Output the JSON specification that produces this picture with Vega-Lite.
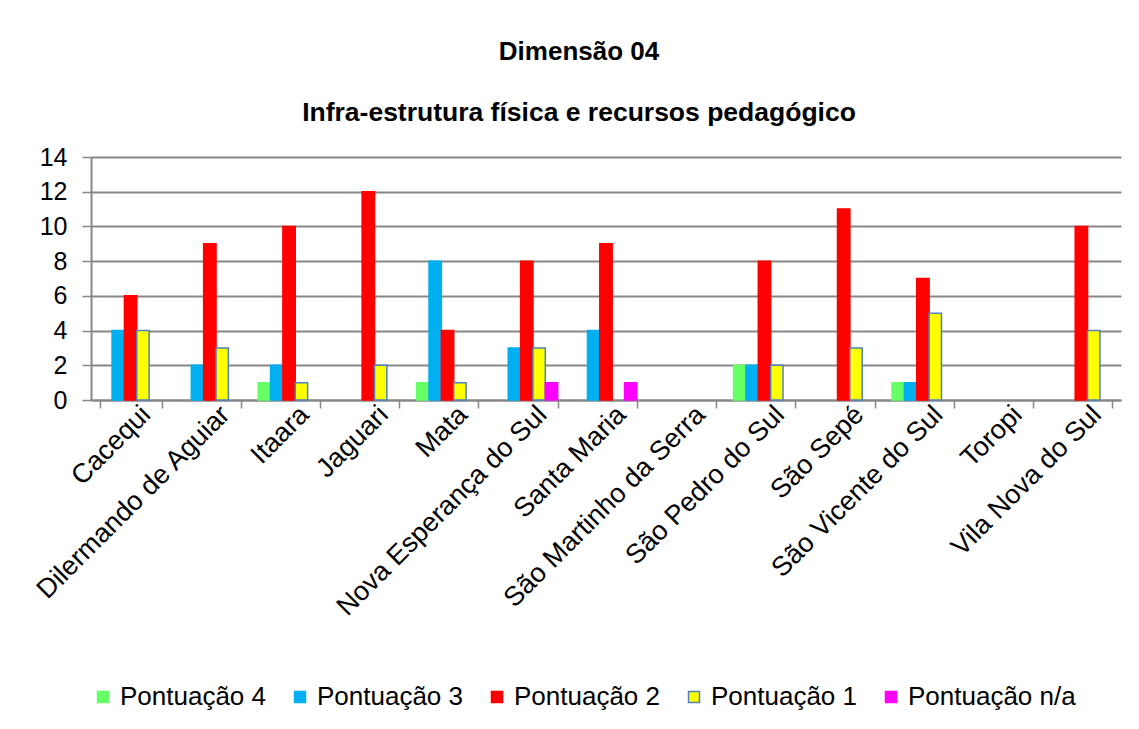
{
  "$schema": "https://vega.github.io/schema/vega-lite/v6.json",
  "width": 1030,
  "height": 243,
  "padding": {"left": 30, "top": 38, "right": 17, "bottom": 15},
  "background": "white",
  "config": {"view": {"stroke": null}},
  "title": {
    "text": "Dimensão 04",
    "subtitle": "Infra-estrutura física e recursos pedagógico",
    "font": "Liberation Sans",
    "fontSize": 26,
    "fontWeight": "bold",
    "color": "black",
    "subtitleFont": "Liberation Sans",
    "subtitleFontSize": 26.5,
    "subtitleFontWeight": "bold",
    "subtitleColor": "black",
    "subtitlePadding": 35,
    "offset": 19,
    "dx": -27,
    "anchor": "middle"
  },
  "data": {
    "values": [
      {"municipio": "Cacequi", "serie": "Pontuação 4", "valor": 0},
      {"municipio": "Cacequi", "serie": "Pontuação 3", "valor": 4},
      {"municipio": "Cacequi", "serie": "Pontuação 2", "valor": 6},
      {"municipio": "Cacequi", "serie": "Pontuação 1", "valor": 4},
      {"municipio": "Cacequi", "serie": "Pontuação n/a", "valor": 0},
      {"municipio": "Dilermando de Aguiar", "serie": "Pontuação 4", "valor": 0},
      {"municipio": "Dilermando de Aguiar", "serie": "Pontuação 3", "valor": 2},
      {"municipio": "Dilermando de Aguiar", "serie": "Pontuação 2", "valor": 9},
      {"municipio": "Dilermando de Aguiar", "serie": "Pontuação 1", "valor": 3},
      {"municipio": "Dilermando de Aguiar", "serie": "Pontuação n/a", "valor": 0},
      {"municipio": "Itaara", "serie": "Pontuação 4", "valor": 1},
      {"municipio": "Itaara", "serie": "Pontuação 3", "valor": 2},
      {"municipio": "Itaara", "serie": "Pontuação 2", "valor": 10},
      {"municipio": "Itaara", "serie": "Pontuação 1", "valor": 1},
      {"municipio": "Itaara", "serie": "Pontuação n/a", "valor": 0},
      {"municipio": "Jaguari", "serie": "Pontuação 4", "valor": 0},
      {"municipio": "Jaguari", "serie": "Pontuação 3", "valor": 0},
      {"municipio": "Jaguari", "serie": "Pontuação 2", "valor": 12},
      {"municipio": "Jaguari", "serie": "Pontuação 1", "valor": 2},
      {"municipio": "Jaguari", "serie": "Pontuação n/a", "valor": 0},
      {"municipio": "Mata", "serie": "Pontuação 4", "valor": 1},
      {"municipio": "Mata", "serie": "Pontuação 3", "valor": 8},
      {"municipio": "Mata", "serie": "Pontuação 2", "valor": 4},
      {"municipio": "Mata", "serie": "Pontuação 1", "valor": 1},
      {"municipio": "Mata", "serie": "Pontuação n/a", "valor": 0},
      {"municipio": "Nova Esperança do Sul", "serie": "Pontuação 4", "valor": 0},
      {"municipio": "Nova Esperança do Sul", "serie": "Pontuação 3", "valor": 3},
      {"municipio": "Nova Esperança do Sul", "serie": "Pontuação 2", "valor": 8},
      {"municipio": "Nova Esperança do Sul", "serie": "Pontuação 1", "valor": 3},
      {"municipio": "Nova Esperança do Sul", "serie": "Pontuação n/a", "valor": 1},
      {"municipio": "Santa Maria", "serie": "Pontuação 4", "valor": 0},
      {"municipio": "Santa Maria", "serie": "Pontuação 3", "valor": 4},
      {"municipio": "Santa Maria", "serie": "Pontuação 2", "valor": 9},
      {"municipio": "Santa Maria", "serie": "Pontuação 1", "valor": 0},
      {"municipio": "Santa Maria", "serie": "Pontuação n/a", "valor": 1},
      {"municipio": "São Martinho da Serra", "serie": "Pontuação 4", "valor": 0},
      {"municipio": "São Martinho da Serra", "serie": "Pontuação 3", "valor": 0},
      {"municipio": "São Martinho da Serra", "serie": "Pontuação 2", "valor": 0},
      {"municipio": "São Martinho da Serra", "serie": "Pontuação 1", "valor": 0},
      {"municipio": "São Martinho da Serra", "serie": "Pontuação n/a", "valor": 0},
      {"municipio": "São Pedro do Sul", "serie": "Pontuação 4", "valor": 2},
      {"municipio": "São Pedro do Sul", "serie": "Pontuação 3", "valor": 2},
      {"municipio": "São Pedro do Sul", "serie": "Pontuação 2", "valor": 8},
      {"municipio": "São Pedro do Sul", "serie": "Pontuação 1", "valor": 2},
      {"municipio": "São Pedro do Sul", "serie": "Pontuação n/a", "valor": 0},
      {"municipio": "São Sepé", "serie": "Pontuação 4", "valor": 0},
      {"municipio": "São Sepé", "serie": "Pontuação 3", "valor": 0},
      {"municipio": "São Sepé", "serie": "Pontuação 2", "valor": 11},
      {"municipio": "São Sepé", "serie": "Pontuação 1", "valor": 3},
      {"municipio": "São Sepé", "serie": "Pontuação n/a", "valor": 0},
      {"municipio": "São Vicente do Sul", "serie": "Pontuação 4", "valor": 1},
      {"municipio": "São Vicente do Sul", "serie": "Pontuação 3", "valor": 1},
      {"municipio": "São Vicente do Sul", "serie": "Pontuação 2", "valor": 7},
      {"municipio": "São Vicente do Sul", "serie": "Pontuação 1", "valor": 5},
      {"municipio": "São Vicente do Sul", "serie": "Pontuação n/a", "valor": 0},
      {"municipio": "Toropi", "serie": "Pontuação 4", "valor": 0},
      {"municipio": "Toropi", "serie": "Pontuação 3", "valor": 0},
      {"municipio": "Toropi", "serie": "Pontuação 2", "valor": 0},
      {"municipio": "Toropi", "serie": "Pontuação 1", "valor": 0},
      {"municipio": "Toropi", "serie": "Pontuação n/a", "valor": 0},
      {"municipio": "Vila Nova do Sul", "serie": "Pontuação 4", "valor": 0},
      {"municipio": "Vila Nova do Sul", "serie": "Pontuação 3", "valor": 0},
      {"municipio": "Vila Nova do Sul", "serie": "Pontuação 2", "valor": 10},
      {"municipio": "Vila Nova do Sul", "serie": "Pontuação 1", "valor": 4},
      {"municipio": "Vila Nova do Sul", "serie": "Pontuação n/a", "valor": 0}
    ]
  },
  "mark": {"type": "bar", "strokeWidth": 1.5},
  "encoding": {
    "x": {
      "field": "municipio",
      "type": "nominal",
      "sort": null,
      "scale": {"paddingInner": 0.22, "paddingOuter": 0.11},
      "axis": {
        "title": null,
        "labelAngle": -45,
        "labelFont": "Liberation Sans",
        "labelFontSize": 27,
        "labelColor": "black",
        "labelLimit": 400,
        "labelPadding": -7,
        "labelOffset": 6,
        "tickBand": "extent",
        "tickSize": 8,
        "tickColor": "#878787",
        "tickWidth": 1.5,
        "domainColor": "#878787",
        "domainWidth": 2
      }
    },
    "xOffset": {
      "field": "serie",
      "type": "nominal",
      "sort": ["Pontuação 4", "Pontuação 3", "Pontuação 2", "Pontuação 1", "Pontuação n/a"],
      "scale": {"paddingInner": 0, "paddingOuter": 0}
    },
    "y": {
      "field": "valor",
      "type": "quantitative",
      "scale": {"domain": [0, 14], "nice": false},
      "axis": {
        "title": null,
        "values": [0, 2, 4, 6, 8, 10, 12, 14],
        "labelFont": "Liberation Sans",
        "labelFontSize": 25,
        "labelColor": "black",
        "labelPadding": 15,
        "tickSize": 9,
        "tickColor": "#878787",
        "tickWidth": 1.5,
        "domainColor": "#878787",
        "domainWidth": 2,
        "gridColor": "#878787",
        "gridWidth": 1.8
      }
    },
    "fill": {
      "field": "serie",
      "type": "nominal",
      "scale": {
        "domain": ["Pontuação 4", "Pontuação 3", "Pontuação 2", "Pontuação 1", "Pontuação n/a"],
        "range": ["#66FF66", "#00B0F0", "#FF0000", "#FFFF00", "#FF00FF"]
      },
      "legend": {
        "title": null,
        "orient": "none",
        "direction": "horizontal",
        "legendX": -1,
        "legendY": 527,
        "symbolType": "square",
        "symbolSize": 121,
        "symbolStrokeWidth": 1.5,
        "labelFont": "Liberation Sans",
        "labelFontSize": 26,
        "labelColor": "black",
        "labelOffset": 4,
        "labelLimit": 300,
        "columnPadding": 20
      }
    },
    "stroke": {
      "field": "serie",
      "type": "nominal",
      "scale": {
        "domain": ["Pontuação 4", "Pontuação 3", "Pontuação 2", "Pontuação 1", "Pontuação n/a"],
        "range": ["#66FF66", "#00B0F0", "#FF0000", "#4F81BD", "#FF00FF"]
      }
    },
    "strokeOpacity": {"condition": {"test": "datum.valor == 0", "value": 0}, "value": 1}
  }
}
